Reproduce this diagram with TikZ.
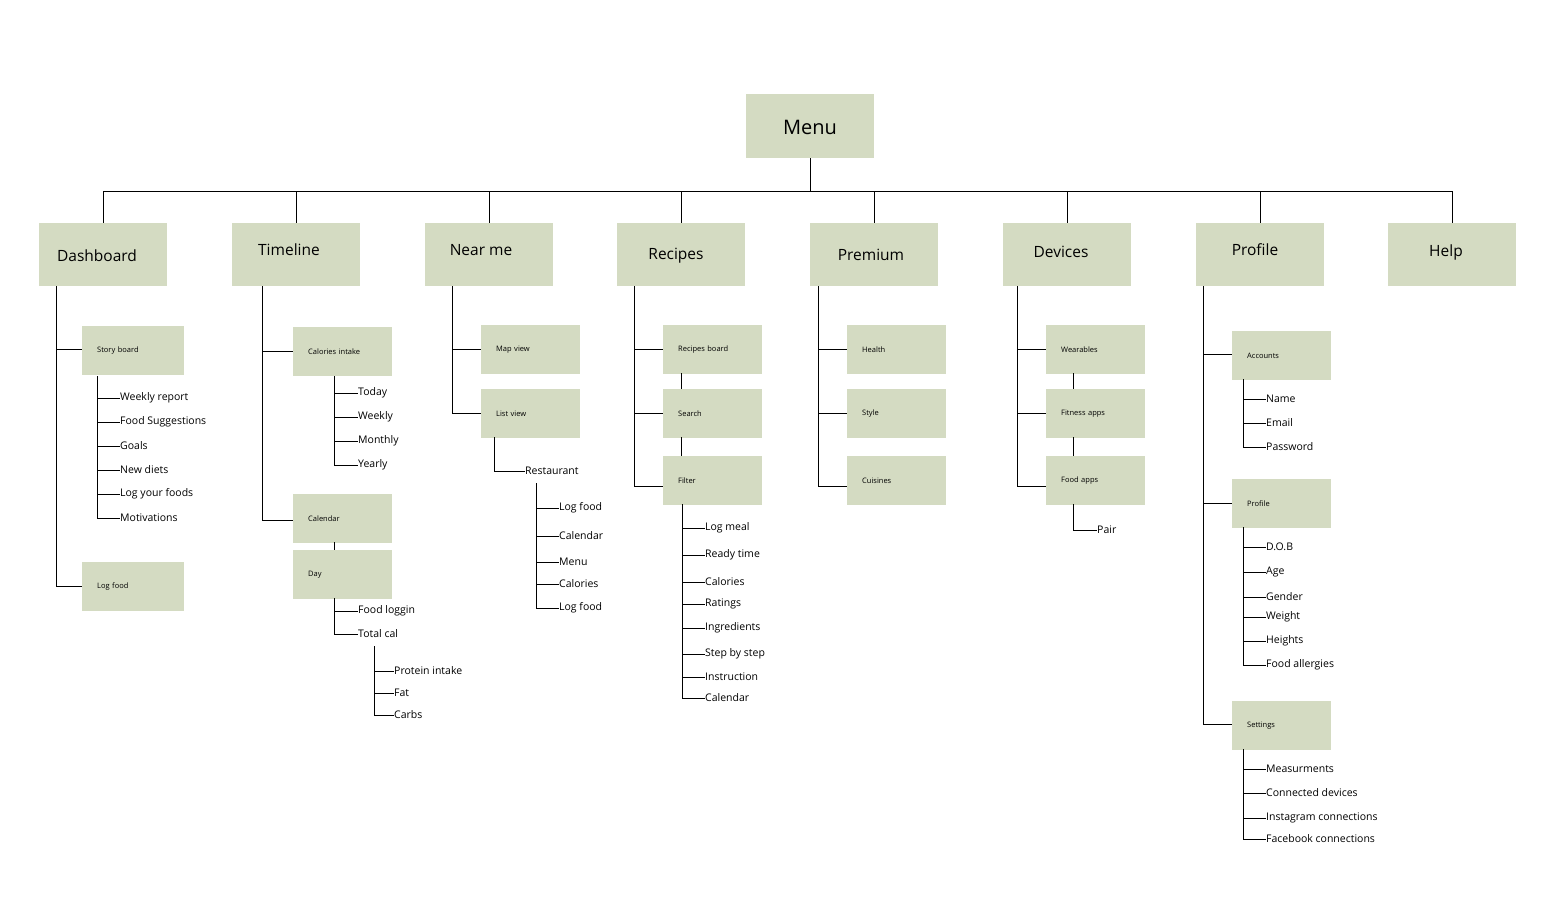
\documentclass[tikz,border=0pt]{standalone}
\usepackage{fontspec}
\setmainfont{Open Sans}
\definecolor{boxc}{HTML}{D4DBC2}
\begin{document}
\begin{tikzpicture}[x=1pt,y=-1pt,
  topbox/.style={fill=boxc,minimum width=128pt,minimum height=63pt,inner sep=0pt},
  toplab/.style={font=\fontsize{15.5}{16}\selectfont,inner sep=0pt},
  subbox/.style={fill=boxc,minimum width=99pt,minimum height=49pt,anchor=north west,inner xsep=15pt,inner ysep=0pt,text width=69pt,align=left,font=\fontsize{7.5}{8}\selectfont},
  leaf/.style={anchor=west,inner sep=0pt,font=\fontsize{10.5}{11}\selectfont},
  ln/.style={draw=black,line width=0.9pt}]
\useasboundingbox (0,0) rectangle (1556,908);
% leaves macro: #1 = trunk x, #2 = start y, #3 = text x, #4 = list y/text
\newcommand\mkleaves[4]{%
  \coordinate (lt) at (#1,#2);
  \foreach \yy/\tt [count=\i] in {#4}{%
    \node[leaf] (lf\i) at (#3,\yy) {\tt};
    \coordinate (le\i) at (#1,\yy);
    \draw[ln] (le\i) -- (lf\i.west);
    \draw[ln] (lt) -- (le\i);
  }}
% Menu
\node[topbox,minimum height=64pt] (menu) at (810,126) {};
\node[inner sep=0pt,font=\fontsize{20}{20}\selectfont] at (810,127) {Menu};
\coordinate (bar) at (810,191);
\draw[ln] (menu.south) -- (bar);
\coordinate (bl) at (103,191); \coordinate (br) at (1452,191);
\draw[ln] (bl) -- (br);
\foreach \n/\x/\lx/\ly/\t in {dash/103/97/256/Dashboard,time/296/289/250/Timeline,near/489/481/250/Near me,reci/681/676/256/Recipes,prem/874/871/255/Premium,devi/1067/1061/252/Devices,prof/1260/1255/250/Profile,help/1452/1446/252/Help}{
  \node[topbox] (\n) at (\x,254.5) {};
  \node[toplab] at (\lx,\ly) {\t};
  \coordinate (\n t) at (\x,191);
  \draw[ln] (\n t) -- (\n.north);
}
% Dashboard
\node[subbox,minimum width=102pt,text width=72pt] (story) at (82,326) {Story board};
\node[subbox,minimum width=102pt,text width=72pt] (dlog) at (82,562) {Log food};
\coordinate (dt) at (56,286); \coordinate (d1) at (56,349); \coordinate (d2) at (56,586);
\draw[ln] (dt) -- (d2) -- (dlog.west |- d2); \draw[ln] (d1) -- (story.west |- d1);
\mkleaves{97}{376}{120}{398/Weekly report,422/Food Suggestions,446/Goals,470/New diets,494/Log your foods,518/Motivations}
% Timeline
\node[subbox] (cal) at (293,327) {Calories intake};
\node[subbox] (tcal) at (293,494) {Calendar};
\node[subbox] (day) at (293,550) {Day};
\coordinate (tt) at (262,286); \coordinate (t1) at (262,351); \coordinate (t2) at (262,520);
\draw[ln] (tt) -- (t2) -- (tcal.west |- t2); \draw[ln] (t1) -- (cal.west |- t1);
\coordinate (tc1) at (334,542); \coordinate (tc2) at (334,550); \draw[ln] (tc1) -- (tc2);
\mkleaves{334}{376}{358}{393/Today,417/Weekly,441/Monthly,465/Yearly}
\mkleaves{334}{598}{358}{611/Food loggin,634/Total cal}
\mkleaves{374}{646}{394}{671/Protein intake,693/Fat,715/Carbs}
% Near me
\node[subbox] (map) at (481,325) {Map view};
\node[subbox] (list) at (481,389) {List view};
\coordinate (nt) at (452,286); \coordinate (n1) at (452,349); \coordinate (n2) at (452,413);
\draw[ln] (nt) -- (n2) -- (list.west |- n2); \draw[ln] (n1) -- (map.west |- n1);
\mkleaves{494}{437}{525}{471/Restaurant}
\mkleaves{536}{483}{559}{508/Log food,536/Calendar,562/Menu,584/Calories,608/Log food}
% Recipes
\node[subbox] (rb) at (663,325) {Recipes board};
\node[subbox] (rs) at (663,389) {Search};
\node[subbox] (rf) at (663,456) {Filter};
\coordinate (rt) at (634,286); \coordinate (r1) at (634,349); \coordinate (r2) at (634,413); \coordinate (r3) at (634,486);
\draw[ln] (rt) -- (r3) -- (rf.west |- r3); \draw[ln] (r1) -- (rb.west |- r1); \draw[ln] (r2) -- (rs.west |- r2);
\coordinate (ra) at (681,373); \coordinate (rb2) at (681,389); \draw[ln] (ra) -- (rb2);
\coordinate (rc) at (681,437); \coordinate (rd) at (681,456); \draw[ln] (rc) -- (rd);
\mkleaves{682}{504}{705}{528/Log meal,555/Ready time,582/Calories,604/Ratings,628/Ingredients,654/Step by step,677/Instruction,698/Calendar}
% Premium
\node[subbox] (ph) at (847,325) {Health};
\node[subbox] (ps) at (847,389) {Style};
\node[subbox] (pc) at (847,456) {Cuisines};
\coordinate (pt) at (818,286); \coordinate (p1) at (818,349); \coordinate (p2) at (818,413); \coordinate (p3) at (818,486);
\draw[ln] (pt) -- (p3) -- (pc.west |- p3); \draw[ln] (p1) -- (ph.west |- p1); \draw[ln] (p2) -- (ps.west |- p2);
% Devices
\node[subbox] (vw) at (1046,325) {Wearables};
\node[subbox] (vf) at (1046,389) {Fitness apps};
\node[subbox] (va) at (1046,456) {Food apps};
\coordinate (vt) at (1017,286); \coordinate (v1) at (1017,349); \coordinate (v2) at (1017,413); \coordinate (v3) at (1017,486);
\draw[ln] (vt) -- (v3) -- (va.west |- v3); \draw[ln] (v1) -- (vw.west |- v1); \draw[ln] (v2) -- (vf.west |- v2);
\coordinate (va1) at (1073,373); \coordinate (va2) at (1073,389); \draw[ln] (va1) -- (va2);
\coordinate (vb1) at (1073,437); \coordinate (vb2) at (1073,456); \draw[ln] (vb1) -- (vb2);
\mkleaves{1073}{504}{1097}{530/Pair}
% Profile
\node[subbox] (fa) at (1232,331) {Accounts};
\node[subbox] (fp) at (1232,479) {Profile};
\node[subbox] (fs) at (1232,701) {Settings};
\coordinate (ft) at (1203,286); \coordinate (f1) at (1203,354); \coordinate (f2) at (1203,503); \coordinate (f3) at (1203,724);
\draw[ln] (ft) -- (f3) -- (fs.west |- f3); \draw[ln] (f1) -- (fa.west |- f1); \draw[ln] (f2) -- (fp.west |- f2);
\mkleaves{1243}{379}{1266}{399/Name,423/Email,447/Password}
\mkleaves{1243}{527}{1266}{547/D.O.B,572/Age,597/Gender,617/Weight,641/Heights,665/Food allergies}
\mkleaves{1243}{749}{1266}{769/Measurments,793/Connected devices,818/Instagram connections,839/Facebook connections}
\end{tikzpicture}
\end{document}
